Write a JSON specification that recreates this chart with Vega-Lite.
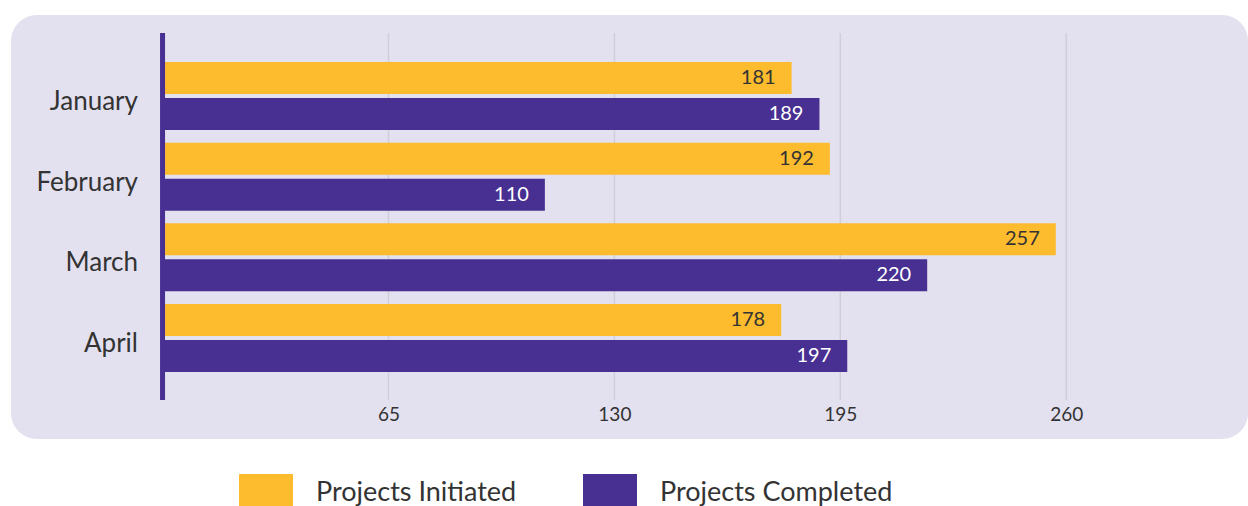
{
  "$schema": "https://vega.github.io/schema/vega-lite/v6.json",
  "width": 1237,
  "height": 424,
  "autosize": {"type": "none"},
  "padding": {"left": 11, "top": 15, "right": 0, "bottom": 67},
  "background": "#ffffff",
  "config": {
    "view": {"fill": "#e3e1f0", "stroke": null, "cornerRadius": 26},
    "font": "Lato",
    "text": {"font": "Lato"}
  },
  "datasets": {
    "bars": [
      {"month": "January", "series": "Projects Initiated", "value": 181},
      {"month": "January", "series": "Projects Completed", "value": 189},
      {"month": "February", "series": "Projects Initiated", "value": 192},
      {"month": "February", "series": "Projects Completed", "value": 110},
      {"month": "March", "series": "Projects Initiated", "value": 257},
      {"month": "March", "series": "Projects Completed", "value": 220},
      {"month": "April", "series": "Projects Initiated", "value": 178},
      {"month": "April", "series": "Projects Completed", "value": 197}
    ],
    "grid": [{"tick": 65}, {"tick": 130}, {"tick": 195}, {"tick": 260}],
    "axisline": [{"zero": 0}]
  },
  "layer": [
    {
      "data": {"name": "grid"},
      "mark": {"type": "rule", "color": "#d0ced9", "strokeWidth": 1.5},
      "encoding": {
        "x": {
          "field": "tick", "type": "quantitative",
          "scale": {"domain": [-43.6, 312.3], "nice": false, "zero": false},
          "axis": {
            "orient": "bottom", "offset": -39, "values": [65, 130, 195, 260],
            "ticks": false, "domain": false, "grid": false, "title": null,
            "labelPadding": 5, "labelFontSize": 19, "labelColor": "#333333", "labelFont": "Lato"
          }
        },
        "y": {
          "datum": "January", "type": "nominal", "bandPosition": -0.4265,
          "scale": {"domain": ["January", "February", "March", "April"], "paddingInner": 0.157, "paddingOuter": 0.7066, "align": 0.4124},
          "axis": {
            "offset": -151.5, "ticks": false, "domain": false, "grid": false, "title": null,
            "labelPadding": 25, "labelFontSize": 26, "labelColor": "#333333", "labelFont": "Lato", "labelOffset": 6
          }
        },
        "y2": {"datum": "April", "bandPosition": 1.412}
      }
    },
    {
      "data": {"name": "bars"},
      "mark": {"type": "bar"},
      "encoding": {
        "x": {"field": "value", "type": "quantitative", "scale": {"domain": [-43.6, 312.3], "nice": false, "zero": false}},
        "y": {"field": "month", "type": "nominal"},
        "yOffset": {
          "field": "series", "type": "nominal",
          "scale": {"domain": ["Projects Initiated", "Projects Completed"], "paddingInner": 0.111, "paddingOuter": 0}
        },
        "color": {
          "field": "series", "type": "nominal",
          "scale": {"domain": ["Projects Initiated", "Projects Completed"], "range": ["#fdbb2e", "#482f92"]},
          "legend": {
            "orient": "none", "legendX": 228, "legendY": 459, "direction": "horizontal",
            "title": null, "symbolType": "square", "symbolSize": 2916, "symbolStrokeWidth": 0,
            "labelFontSize": 27, "labelOffset": 23, "labelBaseline": "alphabetic",
            "columnPadding": 66, "labelColor": "#333333", "labelLimit": 400, "labelFont": "Lato"
          }
        }
      }
    },
    {
      "data": {"name": "bars"},
      "mark": {"type": "text", "align": "right", "baseline": "middle", "dx": -16, "fontSize": 20},
      "encoding": {
        "x": {"field": "value", "type": "quantitative", "scale": {"domain": [-43.6, 312.3], "nice": false, "zero": false}},
        "y": {"field": "month", "type": "nominal"},
        "yOffset": {"field": "series", "type": "nominal", "scale": {"domain": ["Projects Initiated", "Projects Completed"], "paddingInner": 0.111, "paddingOuter": 0}},
        "text": {"field": "value", "type": "quantitative"},
        "color": {"condition": {"test": "datum.series === 'Projects Completed'", "value": "#ffffff"}, "value": "#333333"}
      }
    },
    {
      "data": {"name": "axisline"},
      "mark": {"type": "rule", "color": "#482f92", "strokeWidth": 5},
      "encoding": {
        "x": {"field": "zero", "type": "quantitative", "scale": {"domain": [-43.6, 312.3], "nice": false, "zero": false}},
        "y": {"datum": "January", "type": "nominal", "bandPosition": -0.4265},
        "y2": {"datum": "April", "bandPosition": 1.412}
      }
    }
  ]
}
